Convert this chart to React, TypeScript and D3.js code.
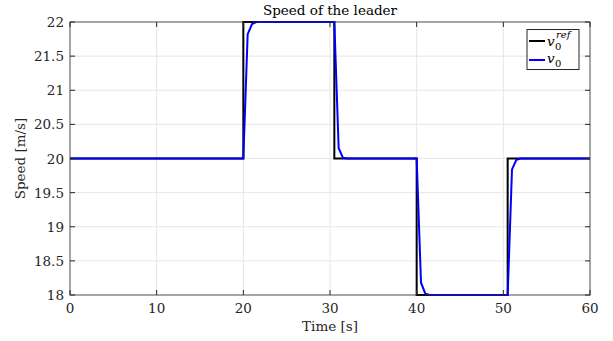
import React from "react";
import * as d3 from "d3";

const refT = [0, 20, 20, 30.5, 30.5, 40, 40, 50.5, 50.5, 60];
const refV = [20, 20, 22, 22, 20, 20, 18, 18, 20, 20];
const actT = [0, 20, 20.5, 21, 21.5, 30.5, 31, 31.5, 32, 40, 40.5, 41, 41.5, 50.5, 51, 51.5, 52, 60];
const actV = [20, 20, 21.82, 21.97, 22, 22, 20.15, 20.01, 20, 20, 18.18, 18.02, 18, 18, 19.84, 19.98, 20, 20];
const xTicks = [0, 10, 20, 30, 40, 50, 60];
const yTicks = [18, 18.5, 19, 19.5, 20, 20.5, 21, 21.5, 22];

const W = 613, H = 341;
const L = 70, R = 590, T = 22, B = 295;
const FONT = "'DejaVu Serif', 'Liberation Serif', serif";

export default function App() {
  const x = d3.scaleLinear().domain([0, 60]).range([L, R]);
  const y = d3.scaleLinear().domain([18, 22]).range([B, T]);
  const line = d3.line<[number, number]>().x(d => x(d[0])).y(d => y(d[1]));
  const refPts = refT.map((t, i) => [t, refV[i]] as [number, number]);
  const actPts = actT.map((t, i) => [t, actV[i]] as [number, number]);
  const axisC = "#262626";
  const tl = 5;
  return (
    <svg width={W} height={H} style={{ position: "absolute", left: 0, top: 0, background: "#fff" }}>
      <rect x={0} y={0} width={W} height={H} fill="#fff" />
      {xTicks.map(t => (
        <line key={"gx" + t} x1={x(t)} x2={x(t)} y1={T} y2={B} stroke="#e6e6e6" strokeWidth={1} />
      ))}
      {yTicks.map(t => (
        <line key={"gy" + t} x1={L} x2={R} y1={y(t)} y2={y(t)} stroke="#e6e6e6" strokeWidth={1} />
      ))}
      <path d={line(refPts) || ""} fill="none" stroke="#000" strokeWidth={2} />
      <path d={line(actPts) || ""} fill="none" stroke="#0000ff" strokeWidth={2} />
      <rect x={L} y={T} width={R - L} height={B - T} fill="none" stroke={axisC} strokeWidth={1} opacity={0.75} />
      {xTicks.map(t => (
        <g key={"tx" + t}>
          <line x1={x(t)} x2={x(t)} y1={B} y2={B - tl} stroke={axisC} />
          <line x1={x(t)} x2={x(t)} y1={T} y2={T + tl} stroke={axisC} />
          <text x={x(t)} y={313} textAnchor="middle" fontFamily={FONT} fontSize={13.5} fill="#262626">{t}</text>
        </g>
      ))}
      {yTicks.map(t => (
        <g key={"ty" + t}>
          <line x1={L} x2={L + tl} y1={y(t)} y2={y(t)} stroke={axisC} />
          <line x1={R} x2={R - tl} y1={y(t)} y2={y(t)} stroke={axisC} />
          <text x={64} y={y(t) + 5} textAnchor="end" fontFamily={FONT} fontSize={13.5} fill="#262626">{t}</text>
        </g>
      ))}
      <text x={(L + R) / 2} y={15} textAnchor="middle" fontFamily={FONT} fontSize={13.5} fill="#000">Speed of the leader</text>
      <text x={(L + R) / 2} y={331} textAnchor="middle" fontFamily={FONT} fontSize={13.5} fill="#262626">Time [s]</text>
      <text transform={`translate(25,${(T + B) / 2}) rotate(-90)`} textAnchor="middle" fontFamily={FONT} fontSize={13.5} fill="#262626">Speed [m/s]</text>
      <g>
        <rect x={527} y={29.5} width={52} height={40} fill="#fff" stroke="#262626" strokeWidth={1} />
        <line x1={529} x2={545} y1={41} y2={41} stroke="#000" strokeWidth={2} />
        <line x1={529} x2={545} y1={60} y2={60} stroke="#0000ff" strokeWidth={2} />
        <text x={547} y={46} fontFamily={FONT} fontSize={13.5} fontStyle="italic" fill="#000">v</text>
        <text x={555} y={50} fontFamily={FONT} fontSize={10} fill="#000">0</text>
        <text x={556} y={38} fontFamily={FONT} fontSize={10} fontStyle="italic" fill="#000">ref</text>
        <text x={547} y={63} fontFamily={FONT} fontSize={13.5} fontStyle="italic" fill="#000">v</text>
        <text x={555} y={67} fontFamily={FONT} fontSize={10} fill="#000">0</text>
      </g>
    </svg>
  );
}
